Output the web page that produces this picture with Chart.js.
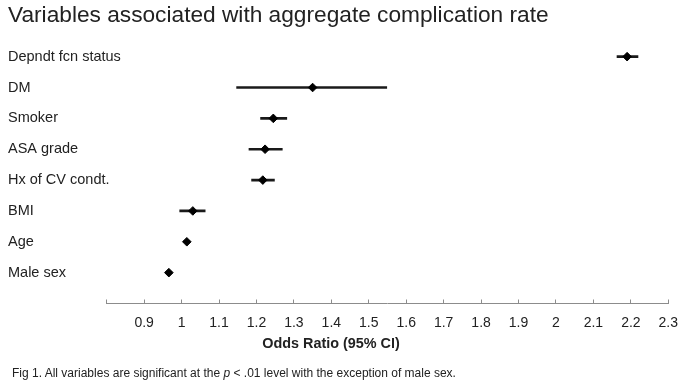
<!DOCTYPE html>
<html>
  <head>
    <meta charset="utf-8">
    <title>Variables associated with aggregate complication rate</title>
    <script src="https://cdn.jsdelivr.net/npm/chart.js@4.4.0/dist/chart.umd.min.js"></script>
    <style>
      body { margin: 0; background: #fff; }
      #wrap { position: relative; width: 685px; height: 387px; font-family: "Liberation Sans", Arial, sans-serif; color: #222; }
      #axisTitle { position: absolute; left: 0; width: 662px; top: 335px; text-align: center; font-weight: bold; font-size: 14.4px; }
      #caption { position: absolute; left: 12px; top: 366px; font-size: 12px; }
    </style>
  </head>
  <body>
    <div id="wrap">
      <canvas id="forest" width="685" height="387"></canvas>
      <div id="axisTitle">Odds Ratio (95% CI)</div>
      <div id="caption">Fig 1. All variables are significant at the <i>p</i> &lt; .01 level with the exception of male sex.</div>
    </div>

    <script>
      // rows listed top to bottom
      const variables = ['Depndt fcn status', 'DM', 'Smoker', 'ASA grade', 'Hx of CV condt.', 'BMI', 'Age', 'Male sex'];
      const oddsRatio = [2.19, 1.35, 1.245, 1.223, 1.217, 1.03, 1.014, 0.966];
      const ciLow = [2.163, 1.147, 1.211, 1.18, 1.187, 0.995, 1.006, 0.958];
      const ciHigh = [2.219, 1.548, 1.281, 1.269, 1.248, 1.063, 1.022, 0.974];

      const xTicks = [0.8, 0.9, 1, 1.1, 1.2, 1.3, 1.4, 1.5, 1.6, 1.7, 1.8, 1.9, 2, 2.1, 2.2, 2.3];
      const xTickLabels = ['', '0.9', '1', '1.1', '1.2', '1.3', '1.4', '1.5', '1.6', '1.7', '1.8', '1.9', '2', '2.1', '2.2', '2.3'];

      const fontFamily = '"Liberation Sans", Arial, sans-serif';
      const n = variables.length;
      // top row sits at n, bottom row at 1
      const rowPos = variables.map((v, i) => n - i);
      const yAxisWidth = 98.7;

      new Chart(document.getElementById('forest'), {
        type: 'bar',
        data: {
          datasets: [
            {
              type: 'scatter',
              order: 0,
              data: oddsRatio.map((v, i) => ({ x: v, y: rowPos[i] })),
              pointStyle: 'rectRot',
              pointRadius: 4.3,
              pointBorderWidth: 1,
              backgroundColor: '#000',
              borderColor: '#000'
            },
            {
              type: 'bar',
              order: 1,
              data: ciLow.map((lo, i) => ({ x: [lo, ciHigh[i]], y: rowPos[i] })),
              backgroundColor: '#1a1a1a',
              borderWidth: 0,
              barThickness: 2
            }
          ]
        },
        options: {
          responsive: false,
          animation: false,
          indexAxis: 'y',
          layout: { padding: { left: 8, right: 16.7, top: 0, bottom: 0 } },
          plugins: {
            legend: { display: false },
            tooltip: { enabled: false },
            title: {
              display: true,
              text: 'Variables associated with aggregate complication rate',
              align: 'start',
              color: '#222',
              font: { family: fontFamily, size: 22.7, weight: 'normal' },
              padding: { top: 2, bottom: 12 }
            }
          },
          scales: {
            x: {
              type: 'linear',
              min: 0.8,
              max: 2.3,
              afterBuildTicks: s => { s.ticks = xTicks.map(v => ({ value: v })); },
              afterFit: s => { s.height = 83.5; s.paddingLeft = 0; s.paddingRight = 0; },
              ticks: {
                color: '#222',
                padding: 15,
                maxRotation: 0,
                autoSkip: false,
                font: { family: fontFamily, size: 14 },
                callback: (v, i) => xTickLabels[i]
              },
              grid: { display: true, drawOnChartArea: false, drawTicks: true, tickLength: -4, color: '#8c8c8c' },
              border: { display: true, color: '#8c8c8c', width: 1 }
            },
            y: {
              type: 'linear',
              offset: false,
              min: 0,
              max: n + 0.5,
              afterBuildTicks: s => { s.ticks = rowPos.map(v => ({ value: v })); },
              afterFit: s => { s.width = yAxisWidth; },
              ticks: {
                color: '#222',
                mirror: true,
                crossAlign: 'near',
                padding: -yAxisWidth,
                autoSkip: false,
                font: { family: fontFamily, size: 14.5 },
                callback: v => variables[n - v]
              },
              grid: { display: false, drawTicks: false },
              border: { display: false }
            }
          }
        }
      });
    </script>
  </body>
</html>
